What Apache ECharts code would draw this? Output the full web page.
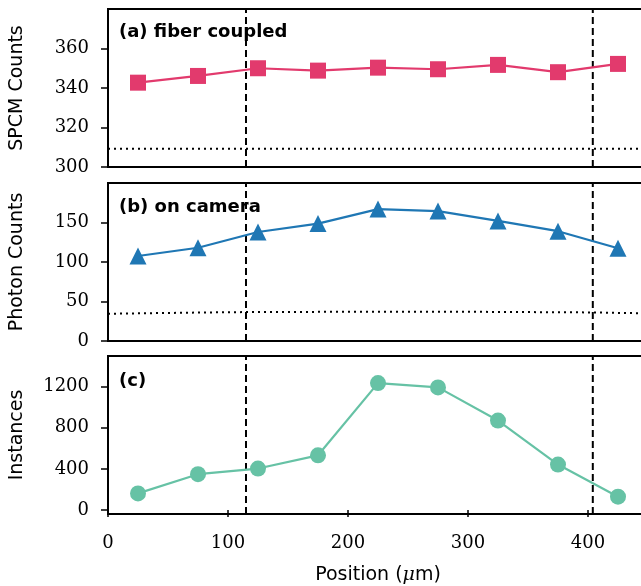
<!DOCTYPE html>
<html>
<head>
<meta charset="utf-8">
<script src="https://cdn.jsdelivr.net/npm/echarts@6/dist/echarts.min.js"></script>
<style>html,body{margin:0;padding:0;background:#fff}#c{width:641px;height:586px}</style>
</head>
<body>
<div id="c"></div>
<script>
// ---- data ----
const positions = [25, 75, 125, 175, 225, 275, 325, 375, 425];
const fiberCounts = [342.7, 346.1, 350.0, 348.8, 350.3, 349.5, 351.7, 348.0, 352.2];
const cameraCounts = [107.6, 118, 138, 148.6, 167, 164.5, 152, 139, 117.4];
const instances = [161, 348, 403, 532, 1236, 1194, 871, 442, 129];
const fiberBgX = [0, 450];
const fiberBgY = [309.2, 309.2];
const cameraBgX = [0, 100, 200, 300, 400, 450];
const cameraBgY = [34.5, 36.5, 37, 37, 36.2, 35];
const vlines = [115, 404];
const xTicks = [0, 100, 200, 300, 400];
const yTicksA = [300, 320, 340, 360];
const yTicksB = [0, 50, 100, 150];
const yTicksC = [0, 400, 800, 1200];
const yRange = [[300, 380], [0, 200], [-40, 1500]];
const panelLabels = ['(a) fiber coupled', '(b) on camera', '(c)'];
const yNames = ['SPCM Counts', 'Photon Counts', 'Instances'];

const serif = 'DejaVu Serif';
const sans = 'DejaVu Sans';
const grids = [
  {left: 108, width: 540, top: 9, height: 158},
  {left: 108, width: 540, top: 183, height: 158},
  {left: 108, width: 540, top: 356, height: 158}
].map(g => Object.assign(g, {show: true, borderColor: '#000', borderWidth: 2, backgroundColor: 'transparent',
  containLabel: false, outerBoundsMode: 'none'}));

const yTickSets = [yTicksA, yTicksB, yTicksC];
const xAxes = [0, 1, 2].map(i => ({
  type: 'value', gridIndex: i, min: 0, max: 450,
  axisLine: {show: false}, splitLine: {show: false},
  axisTick: {show: i === 2, length: 7, lineStyle: {color: '#000', width: 1.5}, customValues: xTicks},
  axisLabel: {show: i === 2, fontFamily: serif, fontSize: 18, color: '#000', margin: 20, customValues: xTicks,
    formatter: v => String(v)},
  name: i === 2 ? 'Position ({i|μ}m)' : '',
  nameLocation: 'middle', nameGap: 52,
  nameTextStyle: {fontFamily: sans, fontSize: 19, color: '#000',
    rich: {i: {fontFamily: serif, fontStyle: 'italic', fontSize: 19, color: '#000'}}}
}));
const yAxes = [0, 1, 2].map(i => ({
  type: 'value', gridIndex: i, min: yRange[i][0], max: yRange[i][1],
  axisLine: {show: false}, splitLine: {show: false},
  axisTick: {show: true, length: 7, lineStyle: {color: '#000', width: 1.5}, customValues: yTickSets[i]},
  axisLabel: {fontFamily: serif, fontSize: 18, color: '#000', margin: 19, customValues: yTickSets[i],
    formatter: v => String(v)},
  name: yNames[i], nameLocation: 'middle', nameGap: 81,
  nameTextStyle: {fontFamily: sans, fontSize: 19, color: '#000'}
}));

const zip = (xs, ys) => xs.map((x, k) => [x, ys[k]]);
const series = [];
const dataSets = [fiberCounts, cameraCounts, instances];
const colors = ['#e23a6d', '#1f77b4', '#66c2a5'];
const symbols = ['rect', 'triangle', 'circle'];
const symSizes = [16, 17, 16];
for (let i = 0; i < 3; i++) {
  vlines.forEach(v => series.push({
    type: 'line', xAxisIndex: i, yAxisIndex: i, symbol: 'none', silent: true,
    data: [[v, yRange[i][0]], [v, yRange[i][1]]],
    lineStyle: {color: '#000', width: 2, type: [7, 4]}, z: 1
  }));
}
series.push({type: 'line', xAxisIndex: 0, yAxisIndex: 0, symbol: 'none', data: zip(fiberBgX, fiberBgY),
  lineStyle: {color: '#000', width: 2, type: [2, 4]}, z: 1});
series.push({type: 'line', xAxisIndex: 1, yAxisIndex: 1, symbol: 'none', data: zip(cameraBgX, cameraBgY),
  lineStyle: {color: '#000', width: 2, type: [2, 4]}, z: 1});
for (let i = 0; i < 3; i++) {
  series.push({
    type: 'line', xAxisIndex: i, yAxisIndex: i, data: zip(positions, dataSets[i]),
    symbol: symbols[i], symbolSize: symSizes[i], showAllSymbol: true,
    itemStyle: {color: colors[i], opacity: 1}, lineStyle: {color: colors[i], width: 2.2}, z: 3
  });
}

const labelTops = [23, 198, 372];
const graphic = panelLabels.map((t, i) => ({
  type: 'text', left: 119, top: labelTops[i],
  style: {text: t, fontFamily: sans, fontWeight: 'bold', fontSize: 18, fill: '#000'}, z: 10
}));

const chart = echarts.init(document.getElementById('c'), null, {renderer: 'canvas'});
chart.setOption({
  animation: false, backgroundColor: '#fff',
  grid: grids, xAxis: xAxes, yAxis: yAxes, series: series, graphic: graphic
});
</script>
</body>
</html>
